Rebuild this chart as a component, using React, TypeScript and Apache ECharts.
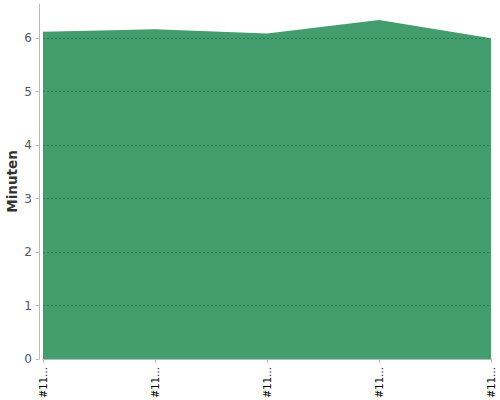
import * as echarts from 'echarts';
import { useEffect, useRef } from 'react';

const categories = ['#1101', '#1102', '#1103', '#1104', '#1105'];
const minuten = [6.12, 6.17, 6.09, 6.34, 6.0];
const yTicks = [0, 1, 2, 3, 4, 5, 6];
const gridValues = [1, 2, 3, 4, 5, 6];

export default function App() {
    const chartRef = useRef<HTMLDivElement>(null);

    useEffect(() => {
        if (!chartRef.current) return;
        document.body.style.margin = '0';

        const chart = echarts.init(chartRef.current, null, { renderer: 'svg' });

        const option: any = {
            animation: false,
            textStyle: { fontFamily: 'DejaVu Sans' },
            grid: { left: 43, right: 9, top: 4, bottom: 41, containLabel: false, outerBoundsMode: 'none' },
            xAxis: {
                type: 'category',
                data: categories,
                boundaryGap: false,
                offset: 4,
                axisLine: { lineStyle: { color: '#bbb', width: 1 } },
                axisTick: { show: true, length: 4, lineStyle: { color: '#bbb' } },
                axisLabel: {
                    rotate: 90,
                    fontSize: 10,
                    color: '#000',
                    margin: 4,
                    formatter: (v: string) => v.slice(0, 3) + '…',
                },
                splitLine: { show: false },
            },
            yAxis: {
                type: 'value',
                min: 0,
                max: 6.64,
                interval: 1,
                offset: 4,
                name: 'Minuten',
                nameLocation: 'middle',
                nameGap: 20,
                nameMoveOverlap: false,
                nameTextStyle: { fontSize: 13.5, fontWeight: 'bold', color: '#333' },
                axisLine: { show: true, lineStyle: { color: '#bbb', width: 1 } },
                axisTick: { show: true, length: 3, lineStyle: { color: '#bbb' }, customValues: yTicks },
                axisLabel: { fontSize: 12, color: '#555', margin: 7, customValues: yTicks },
                splitLine: { show: false },
            },
            series: [
                {
                    name: 'Minuten',
                    type: 'line',
                    data: minuten,
                    symbol: 'none',
                    lineStyle: { width: 0 },
                    areaStyle: { color: '#449d6c', opacity: 1 },
                    markLine: {
                        silent: true,
                        symbol: 'none',
                        label: { show: false },
                        lineStyle: { type: [2, 2], color: 'rgba(0,60,20,0.3)', width: 1 },
                        data: gridValues.map((v) => ({ yAxis: v })),
                    },
                },
            ],
        };

        chart.setOption(option);

        return () => {
            chart.dispose();
        };
    }, []);

    return <div ref={chartRef} style={{ width: '500px', height: '400px' }} />;
}
